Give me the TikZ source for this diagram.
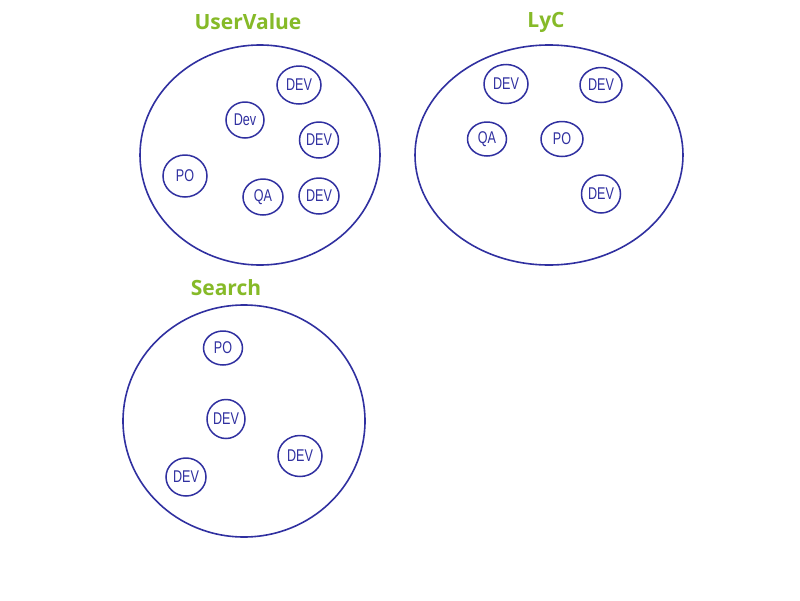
\documentclass[tikz,border=0pt]{standalone}
\usepackage{fontspec}
\setmainfont{Open Sans}
\newfontfamily\inkfont{Liberation Sans}
\usetikzlibrary{shapes.geometric}
\definecolor{ink}{RGB}{48,48,160}
\definecolor{titlegreen}{RGB}{134,186,40}
\tikzset{
  team/.style={draw=ink, line width=1.6pt, ellipse, inner sep=0pt},
  role/.style={draw=ink, line width=1.5pt, ellipse, inner sep=0pt, text=ink,
    font=\inkfont\fontsize{17}{17}\selectfont},
  title/.style={text=titlegreen, font=\bfseries\fontsize{21}{21}\selectfont, inner sep=0pt}
}
\newcommand{\rl}[1]{\scalebox{0.74}[1]{#1}}
\begin{document}
\begin{tikzpicture}[x=1pt,y=-1pt]
\useasboundingbox[fill=white] (0,0) rectangle (800,600);
% titles
\node[title] (t1) at (248,22) {UserValue};
\node[title] (t2) at (546,22) {LyC};
\node[title] (t3) at (226,288) {Search};
% teams
\node[team, minimum width=240pt, minimum height=220pt] (uv) at (260,155) {};
\node[team, minimum width=268pt, minimum height=220pt] (lyc) at (549,155) {};
\node[team, minimum width=242pt, minimum height=232pt] (se) at (244,421) {};
% UserValue members
\node[role, minimum width=44pt, minimum height=38pt] (uv1) at (299,85) {\rl{DEV}};
\node[role, minimum width=38pt, minimum height=36pt] (uv2) at (245,120) {\rl{Dev}};
\node[role, minimum width=39pt, minimum height=36pt] (uv3) at (319,140) {\rl{DEV}};
\node[role, minimum width=44pt, minimum height=42pt] (uv4) at (185,176) {\rl{PO}};
\node[role, minimum width=40pt, minimum height=36pt] (uv5) at (263,197) {\rl{QA}};
\node[role, minimum width=40pt, minimum height=36pt] (uv6) at (319,196) {\rl{DEV}};
% LyC members
\node[role, minimum width=44pt, minimum height=39pt] (ly1) at (506,84) {\rl{DEV}};
\node[role, minimum width=42pt, minimum height=35pt] (ly2) at (601,85) {\rl{DEV}};
\node[role, minimum width=39pt, minimum height=34pt] (ly3) at (487,139) {\rl{QA}};
\node[role, minimum width=42pt, minimum height=35pt] (ly4) at (562,139) {\rl{PO}};
\node[role, minimum width=39pt, minimum height=38pt] (ly5) at (601,194) {\rl{DEV}};
% Search members
\node[role, minimum width=39pt, minimum height=34pt] (se1) at (223,348) {\rl{PO}};
\node[role, minimum width=38pt, minimum height=39pt] (se2) at (226,419) {\rl{DEV}};
\node[role, minimum width=44pt, minimum height=41pt] (se3) at (300,456) {\rl{DEV}};
\node[role, minimum width=40pt, minimum height=38pt] (se4) at (186,477) {\rl{DEV}};
\end{tikzpicture}
\end{document}
